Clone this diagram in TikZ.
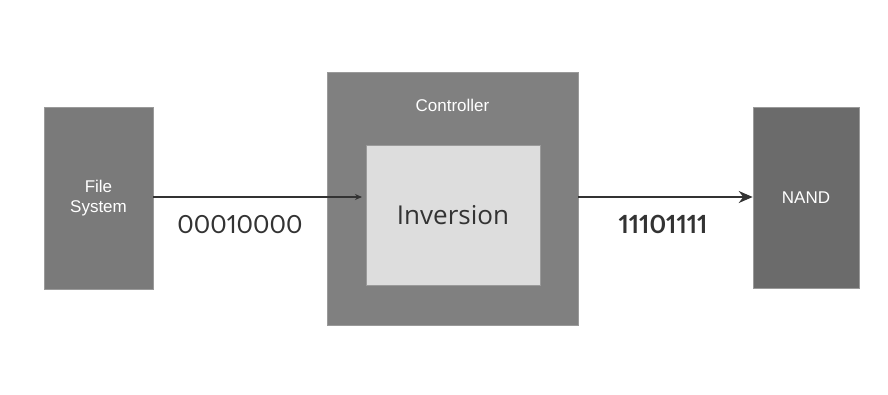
\documentclass[tikz,border=0pt]{standalone}
\usepackage{fontspec}
\setmainfont{Liberation Sans}
\newfontfamily\labelfont[Numbers=Proportional]{Lato}
\newfontfamily\blockfont{Open Sans}
\usepackage{xcolor}
\definecolor{fsgray}{HTML}{7A7A7A}
\definecolor{ctrlgray}{HTML}{808080}
\definecolor{invgray}{HTML}{DDDDDD}
\definecolor{nandgray}{HTML}{6B6B6B}
\definecolor{edgegray}{HTML}{9A9A9A}
\definecolor{darkgray}{HTML}{333333}
\usetikzlibrary{positioning,arrows.meta}

\begin{document}
\begin{tikzpicture}[block/.style={
    	rectangle, inner sep = 0pt, draw = edgegray, line width = 0.6pt,
    	text = white, align = center, font = \fontsize{17}{20}\selectfont},
    	bits/.style={text = darkgray, font = \labelfont\fontsize{25}{28}\selectfont},
    	link/.style={draw = darkgray, line width = 1.2pt}]
    	\useasboundingbox[fill = white] (0,0) rectangle (888pt,394pt);
    	\node (fs) [block, fill = fsgray, minimum width = 109pt, minimum height = 182pt] at (98.5pt,196pt) {File\\System};
    	\node (ctrl) [block, fill = ctrlgray, minimum width = 251pt, minimum height = 253pt] at (452.5pt,195.5pt) {};
    	\node (ctrltitle) [text = white, font = \fontsize{17}{20}\selectfont, below = 24pt of ctrl.north] {Controller};
    	\node (inv) [block, fill = invgray, text = darkgray, font = \blockfont\fontsize{26}{30}\selectfont,
    		minimum width = 174pt, minimum height = 140pt] at (453pt,179pt) {Inversion};
    	\node (nand) [block, fill = nandgray, minimum width = 106pt, minimum height = 181pt] at (806pt,196.5pt) {NAND};
    	\coordinate (inarrow) at (362pt,197pt);
    	\draw [link, -{Stealth[length=7pt,width=6pt]}] (fs.east |- inarrow) -- (inarrow);
    	\draw [link, -{Stealth[length=14pt,width=12pt]}] (ctrl.east |- inarrow) -- (nand.west |- inarrow);
    	\node (bitsin) [bits] at (240pt,169pt) {00010000};
    	\node (bitsout) [bits, font = \labelfont\bfseries\fontsize{25}{28}\selectfont] at (663pt,170pt) {11101111};
	\end{tikzpicture}
\end{document}
